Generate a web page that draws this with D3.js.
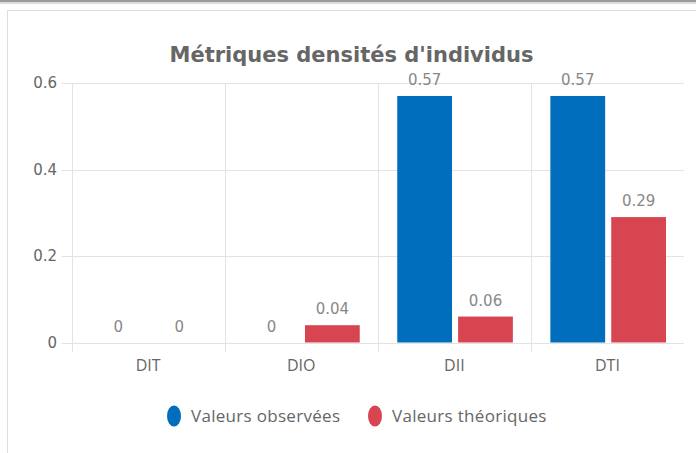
<!DOCTYPE html>
<html>
<head>
<meta charset="utf-8">
<script src="https://cdn.jsdelivr.net/npm/d3@7"></script>
<style>
  body { margin: 0; background: #fff; }
  svg { display: block; }
</style>
</head>
<body>
<svg id="canvas" width="696" height="453"></svg>
<script>
var categories = ['DIT', 'DIO', 'DII', 'DTI'];
var seriesNames = ['Valeurs observées', 'Valeurs théoriques'];
var observed = [0, 0, 0.57, 0.57];
var theoretical = [0, 0.04, 0.06, 0.29];
var yTicks = [0, 0.2, 0.4, 0.6];
var colors = ['#006ebc', '#d74551'];

var svg = d3.select('#canvas');

// page chrome: top bar + card border
svg.append('rect').attr('x', 0).attr('y', 0).attr('width', 696).attr('height', 2).attr('fill', '#9a9a9a');
svg.append('rect').attr('x', 0).attr('y', 2).attr('width', 696).attr('height', 2).attr('fill', '#dcdcdc');
svg.append('rect')
    .attr('x', 7.5).attr('y', 10.5)
    .attr('width', 800).attr('height', 500)
    .attr('fill', '#fff').attr('stroke', '#dedede');

var plotLeft = 71.5, plotRight = 684, plotTop = 83, plotBottom = 342.5;

var x = d3.scaleBand().domain(categories).range([plotLeft, plotRight]).padding(0);
var xs = d3.scaleBand().domain([0, 1])
    .range([19.5, x.bandwidth() - 18])
    .paddingInner(0.1);
var y = d3.scaleLinear().domain([0, 0.6]).range([plotBottom, plotTop]);

// horizontal grid + y ticks
svg.append('g').selectAll('line')
    .data(yTicks).enter().append('line')
    .attr('x1', plotLeft - 10).attr('x2', plotRight)
    .attr('y1', function(d) { return Math.round(y(d)) + 0.5; })
    .attr('y2', function(d) { return Math.round(y(d)) + 0.5; })
    .attr('stroke', '#e3e3e3');

// vertical grid at band edges
svg.append('g').selectAll('line')
    .data(categories).enter().append('line')
    .attr('x1', function(d) { return Math.round(x(d)) + 0.5; })
    .attr('x2', function(d) { return Math.round(x(d)) + 0.5; })
    .attr('y1', plotTop).attr('y2', plotBottom + 10)
    .attr('stroke', '#e3e3e3');

// y axis labels
var yAxis = d3.axisLeft(y).tickValues(yTicks).tickSize(0).tickPadding(0)
    .tickFormat(function(d) { return String(d); });
var gy = svg.append('g').attr('transform', 'translate(57,0)').call(yAxis);
gy.select('.domain').remove();
gy.selectAll('text')
    .attr('font-family', 'DejaVu Sans').attr('font-size', 15)
    .attr('fill', '#666');

// x axis labels
var xAxis = d3.axisBottom(x).tickSize(0).tickPadding(0);
var gx = svg.append('g').attr('transform', 'translate(0,' + 360 + ')').call(xAxis);
gx.select('.domain').remove();
gx.selectAll('text')
    .attr('font-family', 'Open Sans').attr('font-size', 16)
    .attr('fill', '#666');

// bars
var rows = categories.map(function(c, i) {
    return { cat: c, vals: [observed[i], theoretical[i]] };
});

var groups = svg.append('g').selectAll('g')
    .data(rows).enter().append('g')
    .attr('transform', function(d) { return 'translate(' + x(d.cat) + ',0)'; });

groups.selectAll('rect')
    .data(function(d) { return d.vals; })
    .enter().append('rect')
    .attr('x', function(d, i) { return xs(i); })
    .attr('width', xs.bandwidth())
    .attr('y', function(d) { return y(d); })
    .attr('height', function(d) { return plotBottom - y(d); })
    .attr('fill', function(d, i) { return colors[i]; });

groups.selectAll('text')
    .data(function(d) { return d.vals; })
    .enter().append('text')
    .attr('x', function(d, i) { return xs(i) + xs.bandwidth() / 2; })
    .attr('y', function(d) { return y(d) - 11; })
    .attr('text-anchor', 'middle')
    .attr('font-family', 'DejaVu Sans').attr('font-size', 15)
    .attr('fill', '#888')
    .text(function(d) { return String(d); });

// title
svg.append('text')
    .attr('x', 351.5).attr('y', 62)
    .attr('text-anchor', 'middle')
    .attr('font-family', 'DejaVu Sans').attr('font-weight', 'bold')
    .attr('font-size', 21).attr('fill', '#666')
    .text('Métriques densités d\'individus');

// legend
var legendX = [174, 375];
var legend = svg.append('g').selectAll('g')
    .data(seriesNames).enter().append('g')
    .attr('transform', function(d, i) { return 'translate(' + legendX[i] + ',416)'; });
legend.append('ellipse')
    .attr('rx', 7).attr('ry', 10.5)
    .attr('fill', function(d, i) { return colors[i]; });
legend.append('text')
    .attr('x', 17).attr('y', 6)
    .attr('font-family', 'Open Sans').attr('font-size', 17)
    .attr('letter-spacing', 0.3)
    .attr('fill', '#666')
    .text(function(d) { return d; });
</script>
</body>
</html>
